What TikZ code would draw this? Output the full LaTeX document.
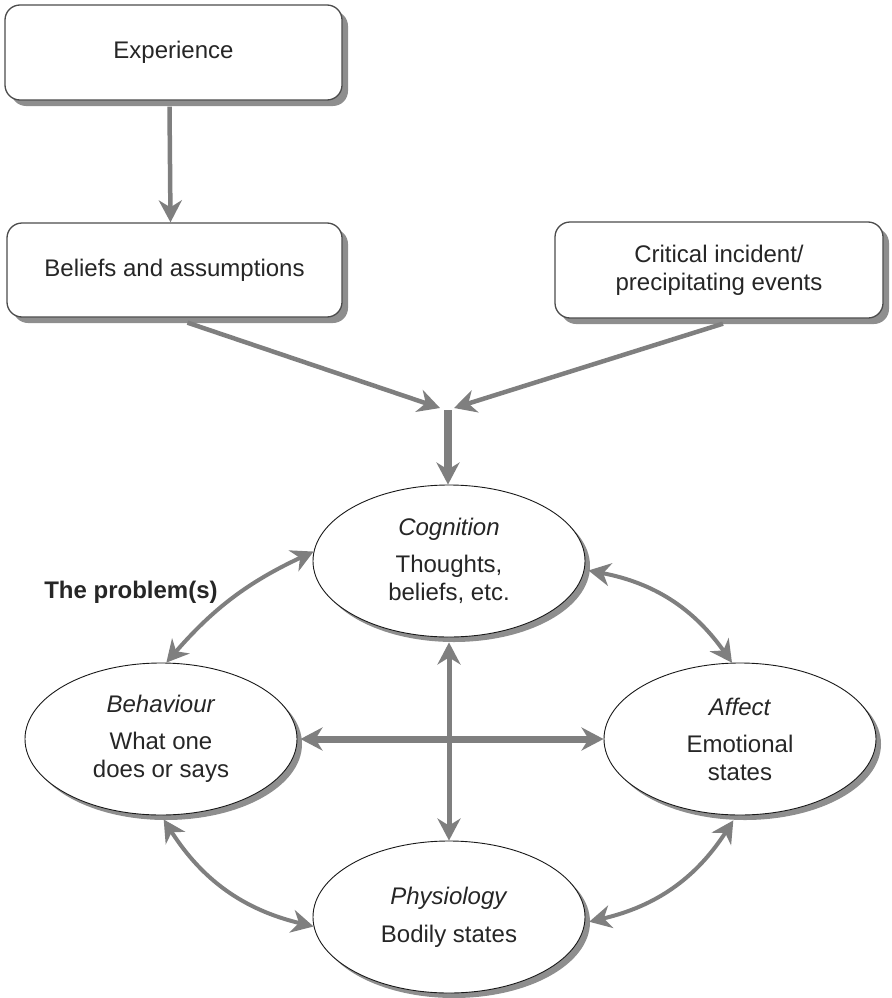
\documentclass[tikz,border=0pt]{standalone}
\usepackage{fontspec}
\setmainfont{Liberation Sans}
\usetikzlibrary{arrows.meta,shapes.geometric,shadows}
\definecolor{arrowgray}{HTML}{7F7F7F}
\definecolor{shadowgray}{HTML}{8E8E8E}
\definecolor{inkgray}{HTML}{262626}
\begin{document}
\begin{tikzpicture}[x=1pt,y=-1pt,
  font=\fontsize{24}{28}\selectfont, text=inkgray,
  >={Stealth[length=22pt,width=23pt,inset=7pt]},
  card/.style={draw=black!70,line width=1.3pt,fill=white,rounded corners=15pt,
    align=center,inner sep=0pt,
    drop shadow={shadow xshift=6pt,shadow yshift=-6pt,fill=shadowgray,opacity=1}},
  oval/.style={ellipse,draw=black!90,line width=0.9pt,fill=white,
    minimum width=272pt,minimum height=152pt,inner sep=0pt,align=center,
    drop shadow={shadow xshift=5pt,shadow yshift=-5pt,fill=shadowgray,opacity=1}},
  link/.style={draw=arrowgray,line width=4.5pt,->},
  biway/.style={draw=arrowgray,line width=4pt,<->},
]
\useasboundingbox (0,0) rectangle (891,998);

% top boxes
\node[card,minimum width=337pt,minimum height=95pt] (exp) at (173.5,52.5) {Experience};
\node[card,minimum width=335pt,minimum height=94pt] (bel) at (174.5,270) {Beliefs and assumptions};
\node[card,minimum width=328pt,minimum height=96pt] (crit) at (719,270)
  {Critical incident/\\precipitating events};

% the four ellipses
\node[oval] (cog) at (449,561) {\textit{Cognition}\\[9pt]Thoughts,\\beliefs, etc.};
\node[oval] (beh) at (161,739) {\textit{Behaviour}\\[9pt]What one\\does or says};
\node[oval] (aff) at (740,739) {\textit{Affect}\\[9pt]Emotional\\states};
\node[oval] (phy) at (449,917) {\textit{Physiology}\\[10pt]Bodily states};

\node[font=\fontsize{24}{28}\selectfont\bfseries] (prob) at (131,592) {The problem(s)};

% experience feeds beliefs
\draw[link] ([xshift=-4pt,yshift=-6pt]exp.south) -- ([xshift=-4pt]bel.north);

% beliefs and incidents converge
\coordinate (mL) at (440,408);
\coordinate (mR) at (454,408);
\coordinate (mS) at (448,410);
\draw[link] ([xshift=13pt,yshift=-5pt]bel.south) -- (mL);
\draw[link] ([xshift=4pt,yshift=-5pt]crit.south) -- (mR);
\draw[link,line width=8pt] (mS) -- (mS |- cog.north);

% links within the problem cycle
\draw[biway,line width=7pt] ([xshift=3pt]beh.east) -- (aff.west);
\draw[biway,line width=5pt] ([yshift=-5pt]cog.south) -- (phy.north);
\draw[biway] (beh.86) to[bend left=12] (cog.176);
\draw[biway] ([xshift=4pt]cog.-4) to[bend left=22] (aff.96);
\draw[biway] ([yshift=-4pt]beh.-88) to[bend right=22] (phy.-176);
\draw[biway] ([yshift=-5pt]aff.-95) to[bend left=22] ([xshift=4pt]phy.-2);
\end{tikzpicture}
\end{document}
